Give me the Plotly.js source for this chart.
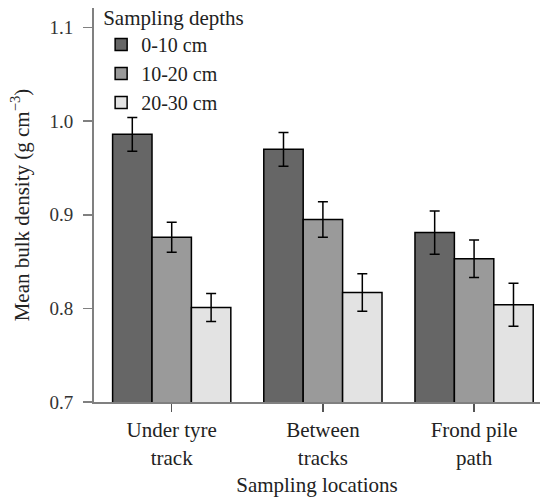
<!DOCTYPE html>
<html><head><meta charset="utf-8">
<script src="https://cdn.plot.ly/plotly-3.0.1.min.js"></script>
<style>html,body{margin:0;padding:0;background:#fff}</style>
</head><body>
<div id="chart" style="width:549px;height:500px"></div>
<script>
const categories = ["Under tyre<br>track", "Between<br>tracks", "Frond pile<br>path"];
const seriesNames = ["0-10 cm", "10-20 cm", "20-30 cm"];
const depth0_10 = [0.986, 0.970, 0.881];
const depth10_20 = [0.876, 0.895, 0.853];
const depth20_30 = [0.801, 0.817, 0.804];
const err0_10 = [0.018, 0.018, 0.023];
const err10_20 = [0.016, 0.019, 0.020];
const err20_30 = [0.015, 0.020, 0.023];
const colors = ["#666666", "#9a9a9a", "#e3e3e3"];
const yTicks = [0.7, 0.8, 0.9, 1.0, 1.1];
const yTickText = ["0.7", "0.8", "0.9", "1.0", "1.1"];

const vals = [depth0_10, depth10_20, depth20_30];
const errs = [err0_10, err10_20, err20_30];
const xIdx = categories.map((c, i) => i);
const traces = vals.map((v, k) => ({
  type: "bar", name: seriesNames[k], x: xIdx, y: v,
  marker: {color: colors[k], line: {color: "#000", width: 1.5}},
  error_y: {type: "data", array: errs[k], visible: true, color: "#000", thickness: 1.5, width: 5},
  hoverinfo: "skip"
}));

const fam = "Liberation Serif, Times New Roman, serif";
const font = {family: fam, size: 21, color: "#222"};
const legFont = {family: fam, size: 20, color: "#222"};
const layout = {
  width: 549, height: 500,
  margin: {l: 94, r: 9, t: 8, b: 98, autoexpand: false},
  paper_bgcolor: "#fff", plot_bgcolor: "#fff",
  font: font,
  barmode: "group", bargap: 0.218, bargroupgap: 0,
  showlegend: true,
  legend: {
    x: 0.016, y: 1.026, xanchor: "left", yanchor: "top",
    bgcolor: "rgba(0,0,0,0)",
    title: {text: "Sampling depths", font: font},
    font: legFont, tracegroupgap: 0, itemwidth: 30
  },
  xaxis: {
    range: [-0.514, 2.436], tickmode: "array", tickvals: xIdx, ticktext: categories,
    showline: true, linecolor: "#808080", linewidth: 2,
    ticks: "outside", ticklen: 8, tickcolor: "#555", tickwidth: 1.5,
    tickfont: {family: fam, size: 21, color: "#222"},
    showgrid: false, zeroline: false, fixedrange: true, automargin: false,
    title: {text: "Sampling locations", font: font, standoff: 9}
  },
  yaxis: {
    range: [0.7, 1.121], tickmode: "array", tickvals: yTicks, ticktext: yTickText,
    showline: true, linecolor: "#808080", linewidth: 2,
    ticks: "outside", ticklen: 9, tickcolor: "#808080", tickwidth: 1.5,
    ticklabelstandoff: 6,
    tickfont: {family: fam, size: 19, color: "#333"},
    showgrid: false, zeroline: false, fixedrange: true, automargin: false,
    title: {text: "Mean bulk density (g cm<sup>−3</sup>)", font: font, standoff: 14}
  }
};
Plotly.newPlot("chart", traces, layout, {displayModeBar: false, staticPlot: true});
</script>
</body></html>
